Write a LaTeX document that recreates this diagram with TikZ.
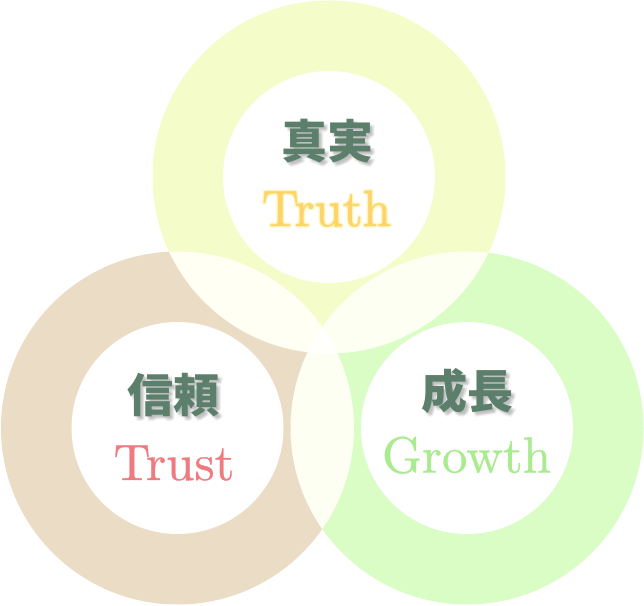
\documentclass[tikz,border=0pt]{standalone}
\usepackage{fontspec}
\newfontfamily\cjk{Noto Sans CJK JP}
\newfontfamily\lmten[FakeBold=0.6]{lmroman10-regular.otf}
\usepackage{xcolor}
\usepackage{tikz}
\usetikzlibrary{calc}

\definecolor{truthring}{HTML}{F4FDC9}
\definecolor{trustring}{HTML}{EBDCC6}
\definecolor{growthring}{HTML}{DAFDC6}
\definecolor{kanjigreen}{HTML}{5B7F6B}
\definecolor{truthtext}{HTML}{FFD36C}
\definecolor{truthglow}{HTML}{FAF5A0}
\definecolor{trusttext}{HTML}{EE7B80}
\definecolor{growthtext}{HTML}{A9EC8F}

\tikzset{
  kanji/.style={font=\cjk\bfseries\fontsize{46}{46}\selectfont, text=kanjigreen, inner sep=0pt},
  kanjishadow/.style={kanji, text=black, opacity=0.035},
  english/.style={font=\lmten\fontsize{51}{51}\selectfont, inner sep=0pt, anchor=base}
}

\begin{document}
\begin{tikzpicture}[x=1pt,y=1pt]
\useasboundingbox (0,0) rectangle (644,605);
% the three rings
\begin{scope}[blend group=screen]
\fill[truthring] (329,428) circle [radius=176.5];
\fill[trustring] (177.5,177) circle [radius=176.5];
\fill[growthring] (467,177) circle [radius=176.5];
\end{scope}
\fill[white] (329,428) circle [radius=106];
\fill[white] (177.5,177) circle [radius=106];
\fill[white] (467,177) circle [radius=106];
% shadows of the kanji
\foreach \dx/\dy in {1/-1,2/-2,3/-3,4/-4,2/-4,4/-2,3/-5,5/-3} {
  \node[kanjishadow] at (327.5+\dx,464+\dy) {真実};
  \node[kanjishadow] at (173.5+\dx,209.5+\dy) {信頼};
  \node[kanjishadow] at (467+\dx,214.5+\dy) {成長};
}
% glow round Truth
\foreach \a in {0,45,...,315}
  \node[english, text=truthglow, opacity=0.35] at ($(326.5,379)+(\a:1.5)$) {Truth};
% labels
\node[kanji] (truthjp) at (327.5,464) {真実};
	\node[english, text=truthtext] (truthen) at (326.5,379) {Truth};
\node[kanji] (trustjp) at (173.5,209.5) {信頼};
	\node[english, text=trusttext] (trusten) at (174,125) {Trust};
\node[kanji] (growthjp) at (467,214.5) {成長};
	\node[english, text=growthtext] (growthen) at (466.5,132.4) {Growth};
\end{tikzpicture}
\end{document}
